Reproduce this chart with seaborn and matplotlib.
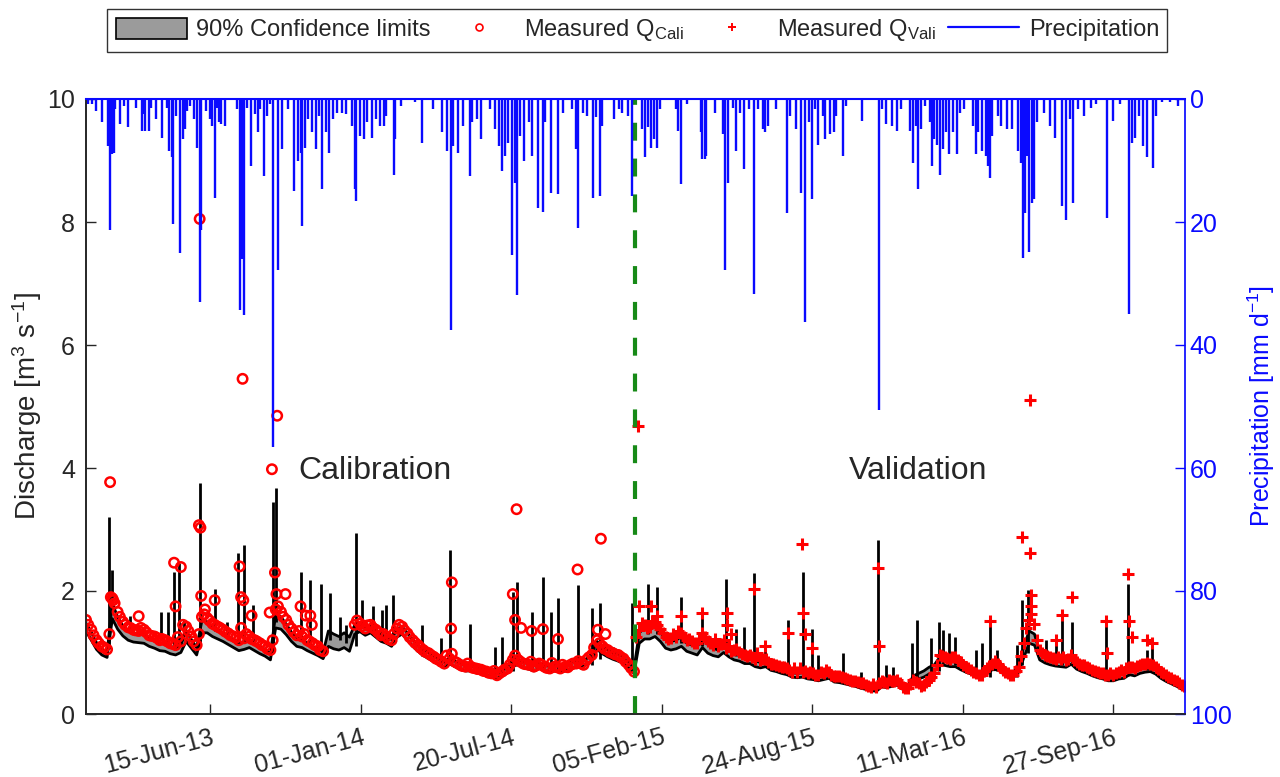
import numpy as np
import pandas as pd
import seaborn as sns
import matplotlib.pyplot as plt
import matplotlib.dates as mdates
from matplotlib.lines import Line2D
from matplotlib.patches import Patch
from matplotlib.transforms import ScaledTranslation

##########################################################################################
# data (Q in m3/s, P in mm/d, days counted from 1-Jan-2013)

start = pd.Timestamp('2013-01-01')
split_date = pd.Timestamp('2015-01-01')
nan = np.nan

# weekly measured discharge (calibration 2013-2014, then validation 2015-2016)
q_obs = [1.53, 1.37, 1.20, 1.10, 1.05, 1.88, 1.66, 1.50, 1.41, 1.37,
         1.35, 1.37, 1.28, 1.26, 1.20, 1.20, 1.15, 1.12, 1.18, 1.42,
         1.26, 1.12, 1.58, 1.56, 1.47, 1.42, 1.37, 1.31, 1.26, 1.20,
         1.23, 1.26, 1.20, 1.15, 1.10, 1.04, 1.70, 1.66, 1.53, 1.39,
         1.28, 1.26, 1.20, 1.15, 1.10, 1.02, nan, nan, nan, nan,
         nan, 1.45, 1.47, 1.39, 1.45, 1.37, 1.28, 1.26, 1.20, 1.39,
         1.42, 1.31, 1.20, 1.12, 1.04, 0.99, 0.93, 0.88, 0.82, 0.90,
         0.85, 0.80, 0.77, 0.77, 0.74, 0.72, 0.69, 0.66, 0.63, 0.69,
         0.74, 0.88, 0.88, 0.82, 0.80, 0.77, 0.82, 0.77, 0.74, 0.77,
         0.74, 0.77, 0.80, 0.82, 0.82, 0.88, 0.96, 1.20, 1.10, 1.04,
         0.99, 0.96, 0.90, 0.80, 0.69,
         1.37, 1.45, 1.42, 1.50, 1.39, 1.26, 1.23, 1.26, 1.31, 1.20,
         1.18, 1.15, 1.31, 1.18, 1.12, 1.10, 1.20, 1.10, 1.04, 1.01,
         0.96, 0.96, 0.90, 0.88, 0.90, 0.82, 0.80, 0.77, 0.74, 0.69,
         0.69, 0.69, 0.66, 0.66, 0.63, 0.66, 0.69, 0.61, 0.61, 0.58,
         0.55, 0.53, 0.50, 0.47, 0.44, 0.44, 0.53, 0.50, 0.53, 0.55,
         0.44, 0.42, 0.55, 0.50, 0.47, 0.55, 0.66, 0.96, 0.93, 0.90,
         0.93, 0.85, 0.77, 0.72, 0.66, 0.63, 0.74, 0.82, 0.82, 0.72,
         0.66, 0.63, 0.77, 1.15, 1.53, 1.47, 1.04, 0.96, 0.93, 0.90,
         0.90, 0.88, 0.96, 0.85, 0.80, 0.77, 0.72, 0.69, 0.66, 0.63,
         0.63, 0.69, 0.69, 0.77, 0.74, 0.80, 0.82, 0.82, 0.77, 0.69,
         0.63, 0.58, 0.53, 0.47]

# measured discharge three days after each of the weekly readings above
q_obs_mid = [1.45, 1.28, 1.15, 1.08, 1.30, 1.80, 1.58, 1.45, 1.40, 1.36,
             1.40, 1.33, 1.27, 1.24, 1.22, 1.18, 1.14, 1.25, 1.45, 1.35,
             1.18, 1.30, 1.62, 1.52, 1.45, 1.40, 1.34, 1.28, 1.24, 1.40,
             1.30, 1.22, 1.18, 1.12, 1.06, 1.20, 1.75, 1.58, 1.45, 1.33,
             1.35, 1.30, 1.18, 1.12, 1.04, nan, nan, nan, nan, nan,
             nan, 1.52, 1.43, 1.44, 1.40, 1.33, 1.30, 1.22, 1.30, 1.45,
             1.36, 1.25, 1.16, 1.08, 1.01, 0.96, 0.90, 0.85, 0.95, 0.98,
             0.83, 0.78, 0.82, 0.75, 0.73, 0.70, 0.67, 0.70, 0.66, 0.72,
             0.80, 0.95, 0.85, 0.81, 0.85, 0.79, 0.80, 0.75, 0.83, 0.76,
             0.80, 0.76, 0.82, 0.86, 0.80, 0.92, 1.08, 1.15, 1.06, 1.01,
             0.97, 0.93, 0.85, 0.75, 1.25,
             1.48, 1.40, 1.52, 1.44, 1.32, 1.22, 1.30, 1.35, 1.25, 1.22,
             1.16, 1.22, 1.25, 1.15, 1.22, 1.14, 1.08, 1.02, 1.06, 0.98,
             0.95, 0.92, 1.00, 0.89, 0.85, 0.82, 0.78, 0.76, 0.72, 0.74,
             0.75, 0.70, 0.68, 0.64, 0.68, 0.72, 0.64, 0.62, 0.60, 0.57,
             0.54, 0.52, 0.50, 0.45, 0.48, 0.50, 0.52, 0.56, 0.54, 0.50,
             0.43, 0.48, 0.52, 0.45, 0.52, 0.60, 0.80, 0.95, 0.91, 0.93,
             0.88, 0.80, 0.75, 0.69, 0.64, 0.70, 0.78, 0.86, 0.76, 0.69,
             0.64, 0.70, 0.95, 1.40, 1.62, 1.20, 1.00, 0.94, 0.91, 0.92,
             0.93, 0.90, 0.88, 0.82, 0.79, 0.75, 0.70, 0.67, 0.64, 0.66,
             0.66, 0.72, 0.75, 0.76, 0.78, 0.81, 0.83, 0.80, 0.73, 0.66,
             0.60, 0.56, 0.50, 0.46]

# weekly upper / lower 90% confidence limits of simulated discharge
q_hi = [1.48, 1.33, 1.16, 1.06, 1.00, 1.80, 1.58, 1.43, 1.35, 1.31,
        1.30, 1.30, 1.24, 1.20, 1.15, 1.14, 1.10, 1.08, 1.12, 1.36,
        1.21, 1.08, 1.52, 1.50, 1.42, 1.37, 1.32, 1.26, 1.21, 1.15,
        1.18, 1.21, 1.15, 1.10, 1.05, 0.98, 1.62, 1.58, 1.46, 1.33,
        1.24, 1.21, 1.15, 1.10, 1.06, 1.00, 1.35, 1.30, 1.26, 1.32,
        1.25, 1.45, 1.47, 1.40, 1.44, 1.36, 1.29, 1.26, 1.21, 1.38,
        1.42, 1.32, 1.21, 1.13, 1.05, 1.00, 0.94, 0.89, 0.84, 0.92,
        0.86, 0.82, 0.79, 0.79, 0.76, 0.74, 0.71, 0.68, 0.66, 0.70,
        0.76, 0.90, 0.90, 0.84, 0.82, 0.79, 0.84, 0.80, 0.77, 0.80,
        0.77, 0.80, 0.84, 0.86, 0.86, 0.90, 0.98, 1.18, 1.10, 1.04,
        1.00, 0.97, 0.92, 0.84, 0.74,
        1.32, 1.40, 1.38, 1.44, 1.34, 1.21, 1.18, 1.20, 1.26, 1.15,
        1.12, 1.09, 1.25, 1.13, 1.07, 1.04, 1.14, 1.05, 0.99, 0.96,
        0.92, 0.92, 0.86, 0.84, 0.86, 0.79, 0.77, 0.74, 0.71, 0.67,
        0.66, 0.67, 0.64, 0.63, 0.61, 0.63, 0.66, 0.59, 0.58, 0.56,
        0.54, 0.51, 0.49, 0.46, 0.44, 0.43, 0.52, 0.50, 0.52, 0.54,
        0.47, 0.46, 0.62, 0.66, 0.70, 0.76, 0.80, 0.92, 0.90, 0.88,
        0.88, 0.82, 0.78, 0.74, 0.70, 0.68, 0.76, 0.82, 0.82, 0.75,
        0.70, 0.68, 0.79, 1.10, 1.35, 1.30, 1.00, 0.94, 0.91, 0.89,
        0.88, 0.86, 0.92, 0.83, 0.78, 0.75, 0.71, 0.68, 0.65, 0.62,
        0.62, 0.66, 0.67, 0.74, 0.71, 0.76, 0.78, 0.79, 0.74, 0.66,
        0.61, 0.56, 0.51, 0.46]

q_lo = [1.35, 1.20, 1.05, 0.96, 0.92, 1.55, 1.38, 1.27, 1.20, 1.17,
        1.16, 1.15, 1.10, 1.07, 1.03, 1.02, 0.98, 0.96, 1.00, 1.18,
        1.07, 0.96, 1.32, 1.32, 1.26, 1.22, 1.18, 1.13, 1.08, 1.03,
        1.05, 1.08, 1.03, 0.98, 0.94, 0.88, 1.40, 1.38, 1.29, 1.18,
        1.10, 1.08, 1.03, 0.99, 0.95, 0.90, 1.10, 1.06, 1.04, 1.08,
        1.02, 1.30, 1.34, 1.28, 1.32, 1.25, 1.18, 1.15, 1.10, 1.25,
        1.30, 1.20, 1.10, 1.02, 0.95, 0.90, 0.85, 0.80, 0.75, 0.82,
        0.77, 0.73, 0.70, 0.70, 0.67, 0.65, 0.63, 0.60, 0.58, 0.62,
        0.67, 0.78, 0.80, 0.75, 0.73, 0.70, 0.74, 0.71, 0.68, 0.70,
        0.68, 0.70, 0.74, 0.76, 0.76, 0.80, 0.87, 1.05, 0.98, 0.93,
        0.89, 0.86, 0.82, 0.75, 0.66,
        1.15, 1.22, 1.22, 1.26, 1.18, 1.07, 1.04, 1.06, 1.10, 1.02,
        0.99, 0.96, 1.08, 0.99, 0.95, 0.93, 1.00, 0.93, 0.88, 0.86,
        0.82, 0.82, 0.77, 0.75, 0.77, 0.71, 0.69, 0.66, 0.64, 0.60,
        0.59, 0.60, 0.57, 0.56, 0.54, 0.56, 0.58, 0.52, 0.51, 0.49,
        0.47, 0.45, 0.42, 0.40, 0.38, 0.37, 0.44, 0.43, 0.45, 0.47,
        0.40, 0.39, 0.52, 0.57, 0.60, 0.65, 0.69, 0.80, 0.79, 0.77,
        0.77, 0.72, 0.68, 0.65, 0.61, 0.59, 0.66, 0.72, 0.72, 0.66,
        0.61, 0.59, 0.68, 0.92, 1.15, 1.12, 0.88, 0.83, 0.80, 0.78,
        0.77, 0.76, 0.81, 0.73, 0.69, 0.66, 0.62, 0.59, 0.57, 0.54,
        0.54, 0.57, 0.58, 0.64, 0.62, 0.66, 0.68, 0.69, 0.65, 0.58,
        0.53, 0.49, 0.45, 0.40]

# simulated flood peaks: day, level they rise from, peak value
peak_day = [31, 34, 58, 100, 109, 117, 124, 130, 151, 171, 187, 202, 210, 222, 249, 252,
            285, 297, 312, 324, 337, 346, 359, 366, 381, 393, 399, 408, 447, 472, 484,
            510, 543, 553, 567, 573, 592, 607, 618, 627, 654, 672, 683, 700, 725,
            747, 758, 790, 818, 850, 863, 874, 887, 902, 932, 953, 964, 972, 1006, 1030,
            1052, 1063, 1072, 1097, 1104, 1123, 1133, 1138, 1147, 1155, 1183, 1190, 1201,
            1210, 1237, 1244, 1252, 1276, 1289, 1297, 1310, 1355, 1384, 1409, 1416]
peak_base = [1.05, 1.70, 1.35, 1.20, 1.15, 1.10, 1.10, 1.30, 1.10, 1.35, 1.25, 1.15, 1.20, 1.15, 1.00, 1.50,
             1.20, 1.15, 1.05, 1.20, 1.20, 1.15, 1.10, 1.40, 1.35, 1.25, 1.20, 1.25, 0.95, 0.80, 0.80,
             0.75, 0.62, 0.62, 0.70, 0.80, 0.72, 0.72, 0.72, 0.72, 0.75, 0.80, 0.90, 0.90, 0.70,
             1.30, 1.30, 1.15, 1.10, 1.00, 0.95, 0.90, 0.85, 0.80, 0.65, 0.62, 0.60, 0.58, 0.55, 0.45,
             0.42, 0.45, 0.48, 0.50, 0.50, 0.50, 0.70, 0.80, 0.80, 0.80, 0.60, 0.60, 0.60,
             0.70, 0.60, 0.80, 1.00, 0.85, 0.80, 0.80, 0.80, 0.60, 0.62, 0.72, 0.72]
peak_top = [3.20, 2.34, 1.60, 1.66, 1.66, 2.31, 2.46, 1.53, 3.75, 2.03, 1.50, 2.62, 2.75, 1.77, 3.45, 3.68,
            2.31, 2.18, 2.12, 1.96, 1.58, 1.45, 2.95, 1.85, 1.75, 1.69, 1.77, 1.93, 1.45, 1.23, 2.66,
            1.47, 1.09, 1.26, 1.99, 2.15, 1.66, 2.23, 1.66, 1.88, 2.10, 1.72, 1.80, 1.09, 1.81,
            2.12, 2.07, 1.90, 1.56, 2.19, 1.39, 1.41, 2.29, 1.12, 1.53, 2.31, 1.39, 0.96, 0.99, 0.69,
            2.83, 0.80, 0.77, 1.15, 1.53, 1.23, 1.50, 1.37, 1.31, 1.26, 1.04, 1.15, 1.50,
            1.04, 1.12, 1.86, 2.02, 1.20, 1.26, 1.65, 1.50, 1.50, 2.12, 1.04, 1.20]

# measured values lying away from the weekly curve (storm flows)
obs_peak_day = [32, 33, 36, 70, 117, 119, 126, 150, 151, 152, 153, 158, 171, 204, 206, 208,
                209, 220, 244, 247, 251, 253, 254, 265, 285, 292, 298, 300, 485, 486, 567,
                570, 572, 578, 592, 607, 627, 653, 680, 684, 690,
                733, 735, 751, 759, 790, 818, 851, 852, 857, 887, 902, 932, 951, 953, 955,
                964, 1052, 1053, 1201, 1243, 1254, 1254, 1255, 1256, 1289, 1297, 1310,
                1355, 1356, 1384, 1386, 1390, 1409, 1416]
obs_peak_q = [3.77, 1.90, 1.85, 1.59, 2.46, 1.75, 2.39, 3.07, 8.05, 3.03, 1.92, 1.70, 1.85, 2.40, 1.90, 5.45,
              1.85, 1.60, 1.65, 3.98, 2.30, 1.95, 4.85, 1.95, 1.75, 1.60, 1.60, 1.45, 1.39, 2.14, 1.95,
              1.53, 3.33, 1.40, 1.35, 1.38, 1.22, 2.35, 1.37, 2.85, 1.30,
              4.68, 1.75, 1.75, 1.60, 1.59, 1.64, 1.64, 1.45, 1.30, 2.04, 1.10, 1.31, 2.77, 1.65, 1.30,
              1.07, 2.37, 1.10, 1.51, 2.88, 2.62, 5.10, 1.93, 1.75, 1.20, 1.61, 1.90,
              1.51, 0.99, 2.28, 1.51, 1.26, 1.20, 1.15]

# daily precipitation events
rain_day = [3, 8, 13, 21, 29, 32, 34, 37, 39, 45, 51, 56, 67, 74, 77, 79, 84, 86, 93, 101,
            108, 110, 114, 116, 120, 125, 129, 131, 134, 138, 143, 148, 151, 153, 160, 165,
            168, 171, 174, 177, 180, 185, 200, 204, 207, 210, 214, 219, 224, 229, 231, 236,
            240, 245, 249, 255, 261, 269, 276, 281, 285, 287, 291, 295, 300, 305, 309, 313,
            319, 323, 328, 333, 340, 345, 354, 357, 359, 364, 369, 373, 380, 385, 390, 396,
            399, 409, 411, 418, 437, 447, 461, 473, 480, 485, 487, 494, 501, 510, 513, 519,
            525, 537, 544, 549, 552, 556, 561, 566, 570, 573, 577, 582, 588, 593, 601, 607,
            610, 618, 627, 634, 646, 651, 654, 660, 665, 673, 677, 683, 686, 701, 708, 712,
            720, 726,
            739, 743, 747, 750, 755, 759, 762, 784, 787, 790, 798, 817, 819, 822, 824, 836,
            846, 849, 853, 860, 864, 869, 874, 881, 888, 893, 899, 902, 906, 917, 931, 935,
            943, 950, 955, 960, 965, 969, 973, 979, 982, 988, 994, 997, 1006, 1009, 1031,
            1053, 1057, 1063, 1071, 1078, 1083, 1095, 1098, 1102, 1105, 1109, 1114, 1121,
            1124, 1126, 1131, 1134, 1138, 1143, 1147, 1152, 1157, 1161, 1166, 1178, 1182,
            1185, 1190, 1195, 1198, 1201, 1204, 1211, 1216, 1223, 1230, 1238, 1242, 1245,
            1247, 1250, 1253, 1257, 1259, 1264, 1273, 1280, 1287, 1297, 1302, 1307, 1311,
            1318, 1326, 1335, 1342, 1356, 1364, 1373, 1386, 1390, 1393, 1399, 1404, 1410,
            1418, 1421, 1430, 1440, 1451]
rain_mm = [0.8, 0.8, 1.9, 3.7, 7.6, 21.3, 9.0, 8.7, 1.6, 4.1, 1.1, 4.6, 1.4, 5.2, 2.5, 5.2, 5.2, 1.4, 3.3, 6.3,
           1.4, 8.4, 9.5, 20.4, 2.7, 25.1, 6.5, 4.9, 1.9, 1.1, 3.3, 7.9, 33.0, 21.3, 1.9, 3.3,
           4.4, 16.1, 1.4, 3.8, 4.1, 4.4, 1.6, 34.3, 26.0, 35.1, 1.4, 10.9, 2.5, 5.4, 1.6, 12.5,
           2.7, 0.8, 56.6, 27.8, 8.2, 1.6, 15.0, 10.1, 8.7, 20.7, 7.9, 3.3, 5.4, 8.2, 2.7, 14.7,
           5.4, 8.7, 3.3, 2.2, 2.2, 2.5, 4.4, 14.7, 16.6, 6.0, 6.5, 3.8, 6.3, 3.3, 4.4, 4.4,
           2.7, 12.3, 6.5, 1.1, 0.5, 7.1, 1.6, 5.4, 8.4, 37.6, 7.6, 8.7, 4.4, 12.5, 3.8, 3.3,
           6.5, 1.6, 4.9, 7.6, 11.7, 9.3, 7.1, 25.3, 13.6, 31.9, 6.0, 10.1, 3.8, 9.3, 17.7, 18.3,
           3.8, 15.3, 15.5, 2.2, 1.6, 8.2, 21.0, 2.2, 2.7, 16.1, 3.0, 15.8, 4.4, 3.3, 1.6, 2.2,
           2.7, 15.8,
           4.9, 9.5, 4.6, 7.9, 6.5, 7.9, 1.6, 1.6, 5.2, 13.9, 0.8, 5.4, 9.8, 9.8, 9.3, 2.2,
           5.7, 27.8, 13.6, 1.4, 8.4, 2.2, 11.4, 1.6, 31.7, 1.6, 4.9, 5.4, 4.4, 1.6, 18.5, 2.7,
           4.9, 15.3, 36.2, 3.8, 16.3, 1.6, 7.4, 2.7, 6.5, 5.7, 5.4, 2.7, 9.3, 1.1, 3.5,
           50.6, 1.6, 4.1, 4.4, 5.2, 1.6, 5.2, 10.4, 4.4, 14.6, 4.9, 1.1, 3.8,
           10.9, 6.5, 7.4, 12.3, 8.2, 5.4, 9.0, 5.4, 9.0, 2.2, 1.6, 4.4, 9.0,
           5.4, 8.4, 9.3, 10.9, 12.8, 6.0, 2.7, 4.4, 4.9, 4.9, 8.4, 10.4, 25.9,
           18.5, 9.3, 24.8, 16.9, 16.3, 3.8, 2.2, 4.4, 6.3, 17.4, 19.6, 3.3, 16.9,
           1.6, 2.7, 1.4, 0.8, 19.3, 3.5, 0.8, 34.9, 7.1, 6.3, 2.7, 7.6, 9.5,
           11.2, 2.7, 0.5, 0.5, 1.1]

tick_dates = ['2013-06-15', '2014-01-01', '2014-07-20', '2015-02-05',
              '2015-08-24', '2016-03-11', '2016-09-27']

##########################################################################################

def to_dates(days):
    return start + pd.to_timedelta(np.asarray(days), unit='D')

week_days = np.arange(len(q_obs)) * 7
df = pd.DataFrame({'date': to_dates(week_days), 'hi': q_hi, 'lo': q_lo})

# all measured points in one long table
meas = pd.concat([pd.DataFrame({'date': to_dates(week_days), 'obs': q_obs}),
                  pd.DataFrame({'date': to_dates(week_days + 3), 'obs': q_obs_mid}),
                  pd.DataFrame({'date': to_dates(obs_peak_day), 'obs': obs_peak_q})])
meas = meas.dropna()
meas_cali = meas[meas['date'] < split_date]
meas_vali = meas[meas['date'] >= split_date]
rain = pd.DataFrame({'date': to_dates(rain_day), 'mm': rain_mm})

sns.set_theme(style='ticks')
plt.rcParams['font.family'] = ['Liberation Sans', 'DejaVu Sans']
plt.rcParams['mathtext.fontset'] = 'custom'
plt.rcParams['mathtext.rm'] = 'Liberation Sans'
plt.rcParams['mathtext.it'] = 'Liberation Sans:italic'

fig, ax = plt.subplots(figsize=(12.8, 7.77), dpi=100)
fig.subplots_adjust(left=86 / 1280, right=1185 / 1280, top=1 - 99 / 777, bottom=1 - 714 / 777)

# confidence band with black limits and the simulated peaks
ax.fill_between(df['date'], df['lo'], df['hi'], color='#9b9b9b', lw=0, zorder=2)
sns.lineplot(data=df, x='date', y='hi', color='black', lw=2.0, ax=ax, zorder=3)
sns.lineplot(data=df, x='date', y='lo', color='black', lw=2.0, ax=ax, zorder=3)
ax.vlines(to_dates(peak_day), peak_base, peak_top, color='black', lw=2.0, zorder=3)

# measured discharge
sns.scatterplot(data=meas_cali, x='date', y='obs', marker='o', s=46, facecolor='none',
                edgecolor='red', linewidth=1.8, ax=ax, zorder=5)
sns.scatterplot(data=meas_vali, x='date', y='obs', marker='+', s=70, color='red',
                linewidth=2.2, ax=ax, zorder=5)

ax.axvline(split_date, color='#178a17', lw=3, dashes=(4.3, 4.3), zorder=6)
ax.text(pd.Timestamp('2014-01-20'), 3.95, 'Calibration', fontsize=23, ha='center', va='center')
ax.text(pd.Timestamp('2016-01-11'), 3.95, 'Validation', fontsize=23, ha='center', va='center')

ax.set_xlim(pd.Timestamp('2013-01-01'), pd.Timestamp('2016-12-31'))
ax.set_ylim(0, 10)
ax.set_yticks([0, 2, 4, 6, 8, 10])
ax.set_xticks(pd.to_datetime(tick_dates))
ax.xaxis.set_major_formatter(mdates.DateFormatter('%d-%b-%y'))
shift = ScaledTranslation(8 / 100, 0, fig.dpi_scale_trans)
for lab in ax.get_xticklabels():
    lab.set_rotation(15)
    lab.set_ha('right')
    lab.set_rotation_mode('anchor')
    lab.set_transform(lab.get_transform() + shift)
ax.set_xlabel('')
ax.set_ylabel('Discharge [m$^3$ s$^{-1}$]', fontsize=20, labelpad=2)
ax.tick_params(direction='in', length=7, width=1, labelsize=18, pad=8)
for s in ['left', 'bottom']:
    ax.spines[s].set_color('#333333')

# precipitation on an inverted right axis
ax2 = ax.twinx()
ax2.vlines(rain['date'], 0, rain['mm'], color='#0a0aff', lw=1.7)
ax2.set_ylim(100, 0)
ax2.set_yticks([0, 20, 40, 60, 80, 100])
ax2.set_ylabel('Precipitation [mm d$^{-1}$]', color='#0a0aff', fontsize=18, labelpad=10)
ax2.tick_params(axis='y', direction='in', length=7, width=1, labelsize=18, colors='#0a0aff')
ax2.spines['right'].set_color('#0a0aff')
ax2.spines['top'].set_color('#0a0aff')
ax2.spines['top'].set_visible(True)
ax2.spines['top'].set_linewidth(1.5)
ax.spines['top'].set_visible(False)
ax.spines['right'].set_visible(False)

handles = [Patch(facecolor='#9b9b9b', edgecolor='black', lw=1.2),
           Line2D([], [], ls='none', marker='o', mfc='none', mec='red', ms=5, mew=1.2),
           Line2D([], [], ls='none', marker='+', color='red', ms=6, mew=1.4),
           Line2D([], [], color='#0a0aff', lw=1.6)]
labels = ['90% Confidence limits', 'Measured Q$_{\\mathrm{Cali}}$',
          'Measured Q$_{\\mathrm{Vali}}$', 'Precipitation']
leg = fig.legend(handles, labels, loc='center', bbox_to_anchor=(0.498, 0.961), ncol=4,
                 fontsize=17, frameon=True, fancybox=False, edgecolor='black',
                 handlelength=3.0, handleheight=1.0, handletextpad=0.4, columnspacing=0.55,
                 borderpad=0.35)
leg.get_frame().set_linewidth(1.0)

plt.savefig('out.png', dpi=100)
